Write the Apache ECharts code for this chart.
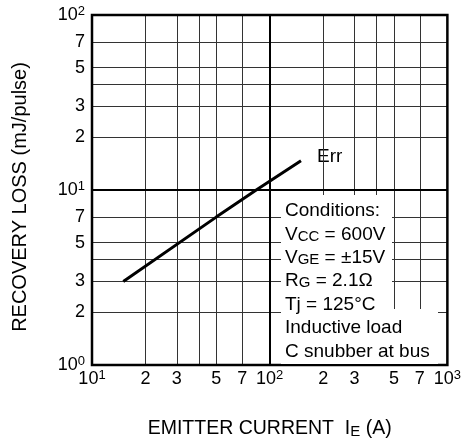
<!DOCTYPE html>
<html>
<head>
<meta charset="utf-8">
<script src="https://cdn.jsdelivr.net/npm/echarts@6/dist/echarts.min.js"></script>
<style>
  html, body { margin: 0; padding: 0; background: #fff; }
  #chart { width: 464px; height: 444px; }
</style>
</head>
<body>
<div id="chart"></div>
<script>
// 恢复损耗 vs 发射极电流 (log-log)
const currentA = [15, 50, 84, 150];            // IE (A)
const lossMJ = [3.0, 7.0, 10.0, 14.7];         // Err (mJ/pulse)
const gridSteps = [2, 3, 4, 5, 7];             // minor grid lines per decade
const labelSteps = [2, 3, 5, 7];               // labelled minor ticks
const xDecades = [1, 2, 3];                    // 10^1 .. 10^3
const yDecades = [0, 1, 2];                    // 10^0 .. 10^2
const conditionLines = [
  'Conditions:',
  'V{s|CC} = 600V',
  'V{s|GE} = ±15V',
  'R{s|G} = 2.1Ω',
  'Tj = 125°C',
  'Inductive load',
  'C snubber at bus'
];

const FONT = '"Liberation Sans", Arial, sans-serif';

function lg(v) { return Math.log10(v); }

// tick positions in log space
function ticksFor(decades, steps) {
  let out = [];
  decades.forEach(function(d, i) {
    out.push(d);
    if (i < decades.length - 1) {
      steps.forEach(function(s) { out.push(d + lg(s)); });
    }
  });
  return out;
}
function innerOnly(arr, decades) {
  return arr.filter(function(v) {
    return v > decades[0] + 1e-9 && v < decades[decades.length - 1] - 1e-9;
  });
}

function fmt(value) {
  let e = Math.round(value);
  if (Math.abs(value - e) < 1e-6) {
    return '{b|10}{s|' + e + '}';
  }
  let m = Math.round(Math.pow(10, value - Math.floor(value + 1e-9)));
  return '{b|' + m + '}';
}

let richTick = {
  b: { fontSize: 18, lineHeight: 20, fontFamily: FONT, color: '#000' },
  s: { fontSize: 13, lineHeight: 13, fontFamily: FONT, color: '#000', verticalAlign: 'top' }
};

let lineData = currentA.map(function(c, i) { return [lg(c), lg(lossMJ[i])]; });

let myChart = echarts.init(document.getElementById('chart'));

let condGraphics = [
  { type: 'rect', shape: { x: 281, y: 195, width: 111, height: 118 }, style: { fill: '#fff' }, z: 100, silent: true },
  { type: 'rect', shape: { x: 281, y: 309, width: 157, height: 55 }, style: { fill: '#fff' }, z: 100, silent: true }
];
conditionLines.forEach(function(t, i) {
  condGraphics.push({
    type: 'text',
    x: 285,
    y: 211 + i * 23.4,
    z: 101,
    silent: true,
    style: {
      text: t,
      font: '19px ' + FONT,
      fill: '#000',
      verticalAlign: 'middle',
      rich: {
        s: { fontSize: 15, fontFamily: FONT, fill: '#000', verticalAlign: 'bottom', lineHeight: 15 }
      }
    }
  });
});

let option = {
  animation: false,
  backgroundColor: '#fff',
  grid: {
    left: 92, right: 16, top: 15, bottom: 74,
    show: true,
    borderColor: '#000',
    borderWidth: 2.5,
    backgroundColor: 'transparent',
    z: 10
  },
  xAxis: {
    type: 'value',
    min: 1, max: 3,
    name: 'EMITTER CURRENT  I{s|E} (A)',
    nameLocation: 'middle',
    nameGap: 54,
    nameTextStyle: {
      fontSize: 19.5, fontFamily: FONT, color: '#000',
      rich: {
        s: { fontSize: 15, fontFamily: FONT, color: '#000', verticalAlign: 'bottom', lineHeight: 15 }
      }
    },
    axisLine: { show: false },
    axisTick: { show: false, customValues: innerOnly(ticksFor(xDecades, gridSteps), xDecades) },
    axisLabel: {
      customValues: ticksFor(xDecades, labelSteps),
      formatter: fmt,
      margin: 4,
      rich: richTick,
      showMinLabel: true,
      showMaxLabel: true,
      hideOverlap: false
    },
    splitLine: { show: true, lineStyle: { color: '#333', width: 1 } }
  },
  yAxis: {
    type: 'value',
    min: 0, max: 2,
    name: 'RECOVERY LOSS (mJ/pulse)',
    nameLocation: 'middle',
    nameGap: 62,
    nameRotate: 90,
    nameTextStyle: { fontSize: 20, fontFamily: FONT, color: '#000', padding: [0, 14, 0, 0] },
    axisLine: { show: false },
    axisTick: { show: false, customValues: innerOnly(ticksFor(yDecades, gridSteps), yDecades) },
    axisLabel: {
      customValues: ticksFor(yDecades, labelSteps),
      formatter: fmt,
      margin: 7,
      rich: richTick,
      showMinLabel: true,
      showMaxLabel: true,
      hideOverlap: false
    },
    splitLine: { show: true, lineStyle: { color: '#333', width: 1 } }
  },
  series: [
    {
      name: 'Err',
      type: 'line',
      data: lineData,
      showSymbol: false,
      lineStyle: { color: '#000', width: 3 },
      z: 5,
      markLine: {
        silent: true,
        symbol: 'none',
        label: { show: false },
        lineStyle: { color: '#000', width: 2, type: 'solid' },
        data: [{ xAxis: 2 }, { yAxis: 1 }]
      }
    }
  ],
  graphic: [
    {
      type: 'text', x: 258, y: 1, silent: true,
      style: { text: '(TYPICAL)', font: '21px ' + FONT, fill: '#000', align: 'center', verticalAlign: 'bottom' }
    },
    {
      type: 'text', x: 317, y: 157, silent: true,
      style: { text: 'Err', font: '19px ' + FONT, fill: '#000', verticalAlign: 'middle' }
    }
  ].concat(condGraphics)
};

myChart.setOption(option);
</script>
</body>
</html>
